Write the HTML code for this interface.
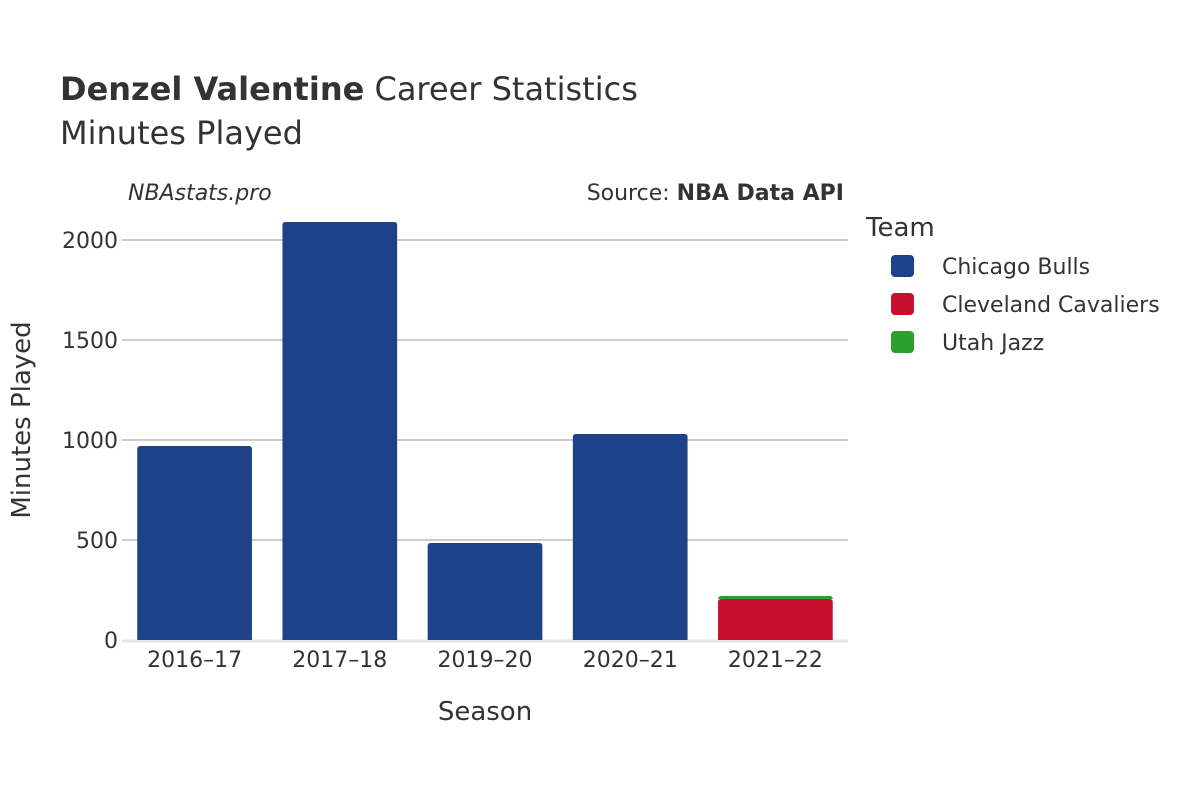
<!DOCTYPE html>
<html><head><meta charset="utf-8"><style>
body{margin:0;background:#fff;font-family:"Liberation Sans","DejaVu Sans",sans-serif;}
svg text{font-family:"DejaVu Sans","Liberation Sans",sans-serif;fill:#333;}
</style></head><body>
<svg id="c" width="1200" height="800">
<text x="60" y="100" font-size="32"><tspan font-weight="bold">Denzel Valentine</tspan> Career Statistics</text>
<text x="60" y="144" font-size="32">Minutes Played</text>
<text x="128" y="200" font-size="22" font-style="italic">NBAstats.pro</text>
<text x="844" y="200" font-size="22" text-anchor="end">Source: <tspan font-weight="bold">NBA Data API</tspan></text>
<g id="grid"></g>
<g id="bars"></g>
<g id="xt"></g>
<text x="30" y="420" font-size="26" text-anchor="middle" transform="rotate(-90 30 420)">Minutes Played</text>
<text x="485" y="720" font-size="26" text-anchor="middle">Season</text>
<text x="866" y="236" font-size="26">Team</text>
<g id="legend"></g>
</svg>
<script>
const seasons=["2016–17","2017–18","2019–20","2020–21","2021–22"];
const bulls=[970,2090,485,1030,0];
const cavs=[0,0,0,0,205];
const jazz=[0,0,0,0,15];
const yTicks=[0,500,1000,1500,2000];
const teams=["Chicago Bulls","Cleveland Cavaliers","Utah Jazz"];
const colors=["#1d428a","#c8102e","#2ca02c"];
const NS="http://www.w3.org/2000/svg";
const x0=122,x1=848,y0=640,scale=0.2;
const y=v=>y0-v*scale;
const step=(x1-x0)/seasons.length;
function mk(t,a,p){const e=document.createElementNS(NS,t);for(const k in a)e.setAttribute(k,a[k]);p.appendChild(e);return e;}
const g=document.getElementById('grid');
yTicks.forEach(t=>{
 if(t>0){const l=mk('line',{x1:x0,x2:x1,y1:y(t),y2:y(t),stroke:'#999','stroke-width':1},g);
 
 }
 const tx=mk('text',{x:x0-4,y:y(t)+8,'font-size':22,'text-anchor':'end'},g);tx.textContent=t;
 
 
});
const ax=mk('line',{x1:x0,x2:x1,y1:y0+1,y2:y0+1,stroke:'#e6e6e6','stroke-width':3},g);


const b=document.getElementById('bars');
const series=[bulls,cavs,jazz];
seasons.forEach((s,i)=>{
 const cx=x0+step*(i+0.5),w=step*0.79;let base=0;
 series.forEach((arr,j)=>{
  const v=arr[i];if(!v)return;
  const top=y(base+v),bot=y(base);
  const r=mk('path',{d:`M${cx-w/2},${bot}V${top+3}Q${cx-w/2},${top} ${cx-w/2+3},${top}H${cx+w/2-3}Q${cx+w/2},${top} ${cx+w/2},${top+3}V${bot}Z`,fill:colors[j]},b);
  
  
  base+=v;
 });
 const t=mk('text',{x:cx,y:y0+27,'font-size':22,'text-anchor':'middle'},document.getElementById('xt'));t.textContent=s;
 
 
});
const lg=document.getElementById('legend');
teams.forEach((t,i)=>{
 const gy=266+i*38;
 const r=mk('rect',{x:891,y:gy-11,width:23,height:22,rx:4,fill:colors[i]},lg);
 
 
 const tx=mk('text',{x:942,y:gy+8,'font-size':22},lg);tx.textContent=t;
 
 
});
</script>
</body></html>
